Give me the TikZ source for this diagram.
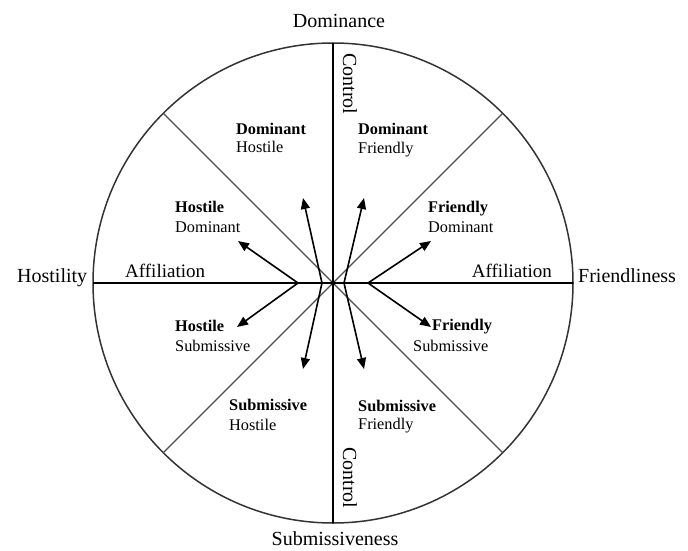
\documentclass[tikz,border=0pt]{standalone}
\usepackage{fontspec}
\setmainfont{Liberation Serif}
\usetikzlibrary{arrows.meta}
\tikzset{
  axis/.style={line width=1.6pt, black},
  rim/.style={line width=1.5pt, black!80},
  diag/.style={line width=1.2pt, black!70},
  vec/.style={line width=1.6pt, black, -{Triangle[length=11pt,width=9pt]}},
  outer/.style={inner sep=0pt, font=\fontsize{20}{24}\selectfont},
  mid/.style={inner sep=0pt, font=\fontsize{19}{23}\selectfont},
  lab/.style={inner sep=0pt, anchor=base west, font=\fontsize{16.3}{19}\selectfont},
  blab/.style={lab, font=\fontsize{16.3}{19}\selectfont\bfseries}
}
\begin{document}
\begin{tikzpicture}[x=1pt,y=-1pt]
\useasboundingbox (0,0) rectangle (688,551);
% geometry
\coordinate (C) at (333,283);
\coordinate (T) at (333,43);
\coordinate (B) at (333,523);
\coordinate (L) at (93,283);
\coordinate (R) at (573,283);
\coordinate (UL) at (163.3,113.3);
\coordinate (UR) at (502.7,113.3);
\coordinate (LL) at (163.3,452.7);
\coordinate (LR) at (502.7,452.7);
\draw[rim] (C) circle[radius=240];
\draw[diag] (UL) -- (LR);
\draw[diag] (UR) -- (LL);
\draw[axis] (T) -- (B);
\draw[axis] (L) -- (R);
\fill (C) circle[radius=2.2];
% arrow origins and tips
\coordinate (LO) at (298,283);
\coordinate (RO) at (368,283);
\coordinate (SL) at (322,283);
\coordinate (SR) at (344,283);
\coordinate (tHD) at (238,241);
\coordinate (tHS) at (237,327);
\coordinate (tFD) at (431,241);
\coordinate (tFS) at (431,327);
\coordinate (tDH) at (303,198);
\coordinate (tSH) at (303,369);
\coordinate (tDF) at (364,198);
\coordinate (tSF) at (364,369);
\draw[vec] (LO) -- (tHD);
\draw[vec] (LO) -- (tHS);
\draw[vec] (RO) -- (tFD);
\draw[vec] (RO) -- (tFS);
\draw[vec] (SL) -- (tDH);
\draw[vec] (SL) -- (tSH);
\draw[vec] (SR) -- (tDF);
\draw[vec] (SR) -- (tSF);
% outer labels
\node[outer, anchor=base] (dom) at (339,28) {Dominance};
\node[outer, anchor=base] (sub) at (335,545) {Submissiveness};
\node[outer, anchor=base west] (hos) at (17,282) {Hostility};
\node[outer, anchor=base west] (fri) at (578,282) {Friendliness};
\node[outer, anchor=base west, rotate=-90] (ctop) at (343,53) {Control};
\node[outer, anchor=base west, rotate=-90] (cbot) at (343,447) {Control};
\node[mid, anchor=base west] (affl) at (125,277) {Affiliation};
\node[mid, anchor=base east] (affr) at (552,277) {Affiliation};
% octant labels
\node[blab] (a1) at (236,134) {Dominant};
\node[lab]  (a2) at (236,152) {Hostile};
\node[blab] (b1) at (358,134) {Dominant};
\node[lab]  (b2) at (358,153) {Friendly};
\node[blab] (c1) at (175,212) {Hostile};
\node[lab]  (c2) at (175,232) {Dominant};
\node[blab] (d1) at (428,212) {Friendly};
\node[lab]  (d2) at (428,232) {Dominant};
\node[blab] (e1) at (175,331) {Hostile};
\node[lab]  (e2) at (175,351) {Submissive};
\node[blab] (f1) at (432,330) {Friendly};
\node[lab]  (f2) at (413,351) {Submissive};
\node[blab] (g1) at (229,410) {Submissive};
\node[lab]  (g2) at (229,430) {Hostile};
\node[blab] (h1) at (358,411) {Submissive};
\node[lab]  (h2) at (358,429) {Friendly};
\end{tikzpicture}
\end{document}
